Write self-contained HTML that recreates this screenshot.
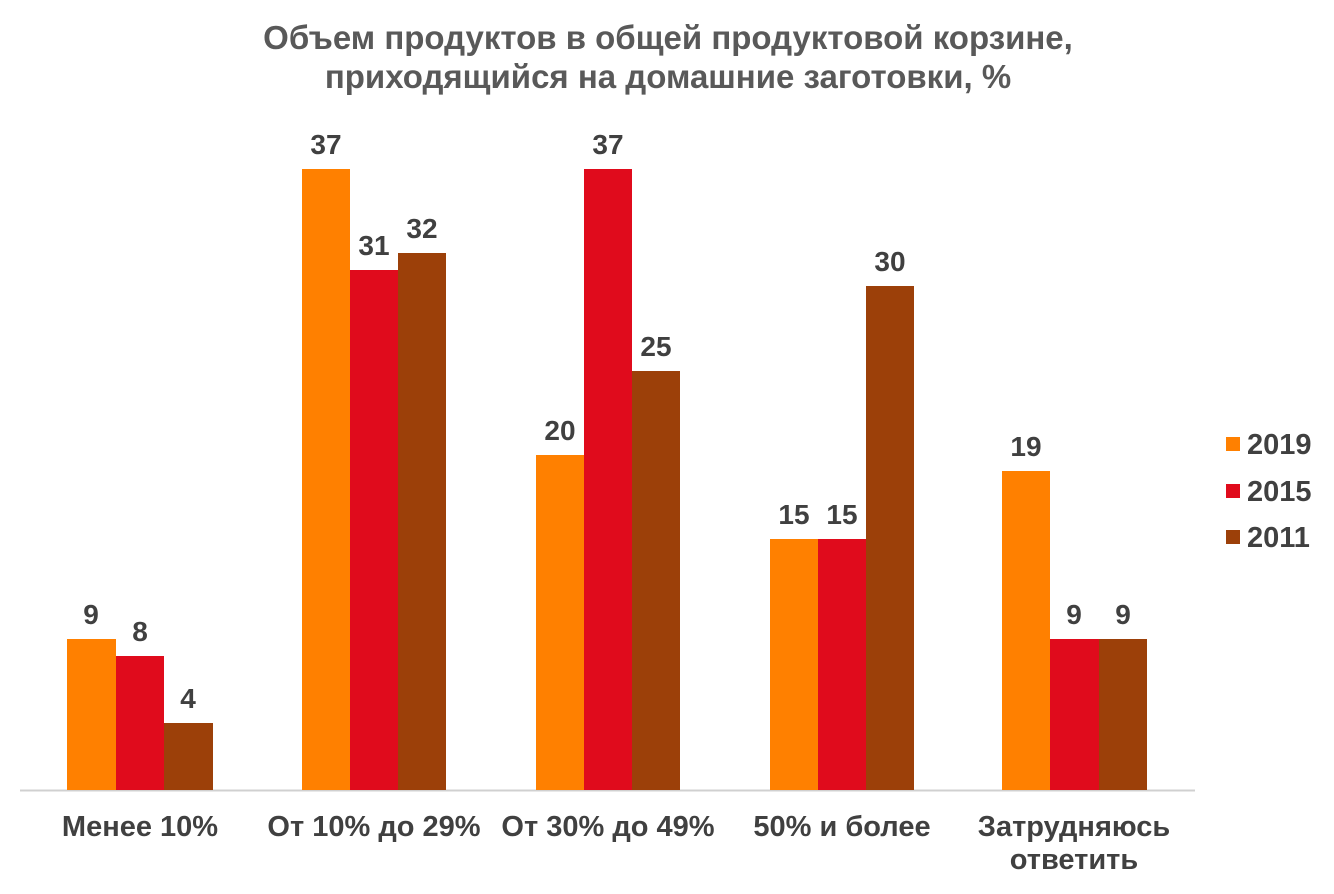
<!DOCTYPE html>
<html><head><meta charset="utf-8"><style>
body{margin:0;background:#fff;}
svg text{font-family:"Liberation Sans",Arial,sans-serif;font-weight:bold;}
</style></head><body>
<svg width="1334" height="889" xmlns="http://www.w3.org/2000/svg">
<text x="668" y="49" text-anchor="middle" font-size="33" fill="#595959">Объем продуктов в общей продуктовой корзине,</text>
<text x="668" y="88" text-anchor="middle" font-size="33" fill="#595959">приходящийся на домашние заготовки, %</text>
<line x1="20" y1="790.5" x2="1195" y2="790.5" stroke="#d0d0d0" stroke-width="2"/>
<g font-size="28" fill="#404040" text-anchor="middle">
<rect x="67" y="639" width="49" height="151" fill="#FF8000"/>
<rect x="116" y="656" width="48" height="134" fill="#E00B1C"/>
<rect x="164" y="723" width="49" height="67" fill="#9C4009"/>
<text x="91" y="624">9</text><text x="140" y="641">8</text><text x="188" y="708">4</text>
<rect x="302" y="169" width="48" height="621" fill="#FF8000"/>
<rect x="350" y="270" width="48" height="520" fill="#E00B1C"/>
<rect x="398" y="253" width="48" height="537" fill="#9C4009"/>
<text x="326" y="154">37</text><text x="374" y="255">31</text><text x="422" y="238">32</text>
<rect x="536" y="455" width="48" height="335" fill="#FF8000"/>
<rect x="584" y="169" width="48" height="621" fill="#E00B1C"/>
<rect x="632" y="371" width="48" height="419" fill="#9C4009"/>
<text x="560" y="440">20</text><text x="608" y="154">37</text><text x="656" y="356">25</text>
<rect x="770" y="539" width="48" height="251" fill="#FF8000"/>
<rect x="818" y="539" width="48" height="251" fill="#E00B1C"/>
<rect x="866" y="286" width="48" height="504" fill="#9C4009"/>
<text x="794" y="524">15</text><text x="842" y="524">15</text><text x="890" y="271">30</text>
<rect x="1002" y="471" width="48" height="319" fill="#FF8000"/>
<rect x="1050" y="639" width="49" height="151" fill="#E00B1C"/>
<rect x="1099" y="639" width="48" height="151" fill="#9C4009"/>
<text x="1026" y="456">19</text><text x="1074" y="624">9</text><text x="1123" y="624">9</text>
</g>
<g font-size="29" fill="#404040" text-anchor="middle">
<text x="140" y="836">Менее 10%</text>
<text x="374" y="836">От 10% до 29%</text>
<text x="608" y="836">От 30% до 49%</text>
<text x="842" y="836">50% и более</text>
<text x="1074" y="836">Затрудняюсь</text>
<text x="1074" y="869">ответить</text>
</g>
<g font-size="29" fill="#404040">
<rect x="1226" y="437" width="14" height="14" fill="#FF8000"/><text x="1247" y="454">2019</text>
<rect x="1226" y="484" width="14" height="14" fill="#E00B1C"/><text x="1247" y="501">2015</text>
<rect x="1226" y="530" width="14" height="14" fill="#9C4009"/><text x="1247" y="547">2011</text>
</g>
</svg>
</body></html>
